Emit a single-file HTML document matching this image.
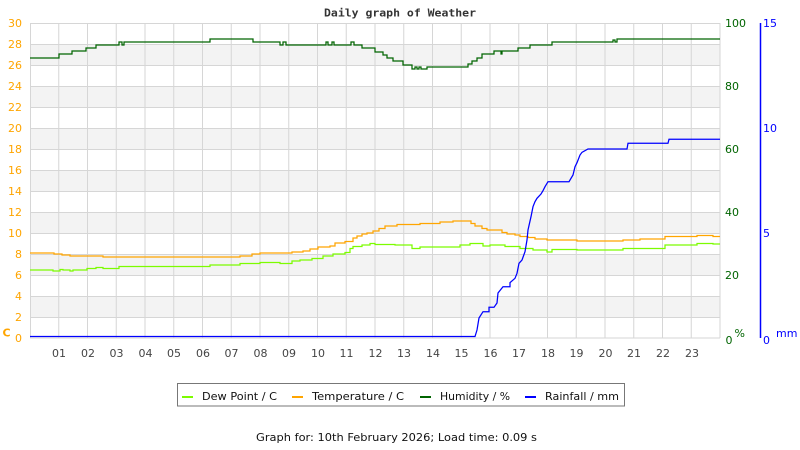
<!DOCTYPE html>
<html><head><meta charset="utf-8"><style>
html,body{margin:0;padding:0;background:#fff;}
svg{display:block;}
text{font-family:"DejaVu Sans","Liberation Sans",sans-serif;}
</style></head><body>
<svg width="800" height="450" viewBox="0 0 800 450" xmlns="http://www.w3.org/2000/svg">
<rect x="0" y="0" width="800" height="450" fill="#fff"/>
<!-- bands -->
<g fill="#f3f3f3">
<rect x="30" y="44" width="690" height="21"/>
<rect x="30" y="86" width="690" height="21"/>
<rect x="30" y="128" width="690" height="21"/>
<rect x="30" y="170" width="690" height="21"/>
<rect x="30" y="212" width="690" height="21"/>
<rect x="30" y="254" width="690" height="21"/>
<rect x="30" y="296" width="690" height="21"/>
</g>
<!-- horizontal grid -->
<g stroke="#d6d6d6" stroke-width="1">
<line x1="30" y1="23.5" x2="720" y2="23.5"/>
<line x1="30" y1="44.5" x2="720" y2="44.5"/>
<line x1="30" y1="65.5" x2="720" y2="65.5"/>
<line x1="30" y1="86.5" x2="720" y2="86.5"/>
<line x1="30" y1="107.5" x2="720" y2="107.5"/>
<line x1="30" y1="128.5" x2="720" y2="128.5"/>
<line x1="30" y1="149.5" x2="720" y2="149.5"/>
<line x1="30" y1="170.5" x2="720" y2="170.5"/>
<line x1="30" y1="191.5" x2="720" y2="191.5"/>
<line x1="30" y1="212.5" x2="720" y2="212.5"/>
<line x1="30" y1="233.5" x2="720" y2="233.5"/>
<line x1="30" y1="254.5" x2="720" y2="254.5"/>
<line x1="30" y1="275.5" x2="720" y2="275.5"/>
<line x1="30" y1="296.5" x2="720" y2="296.5"/>
<line x1="30" y1="317.5" x2="720" y2="317.5"/>
<line x1="30" y1="338" x2="720" y2="338"/>
</g>
<!-- vertical grid -->
<g stroke="#d6d6d6" stroke-width="1">
<line x1="30.5" y1="23" x2="30.5" y2="338"/>
<line x1="58.75" y1="23" x2="58.75" y2="338"/>
<line x1="87.5" y1="23" x2="87.5" y2="338"/>
<line x1="116.25" y1="23" x2="116.25" y2="338"/>
<line x1="145" y1="23" x2="145" y2="338"/>
<line x1="173.75" y1="23" x2="173.75" y2="338"/>
<line x1="202.5" y1="23" x2="202.5" y2="338"/>
<line x1="231.25" y1="23" x2="231.25" y2="338"/>
<line x1="260" y1="23" x2="260" y2="338"/>
<line x1="288.75" y1="23" x2="288.75" y2="338"/>
<line x1="317.5" y1="23" x2="317.5" y2="338"/>
<line x1="346.25" y1="23" x2="346.25" y2="338"/>
<line x1="375" y1="23" x2="375" y2="338"/>
<line x1="403.75" y1="23" x2="403.75" y2="338"/>
<line x1="432.5" y1="23" x2="432.5" y2="338"/>
<line x1="461.25" y1="23" x2="461.25" y2="338"/>
<line x1="490" y1="23" x2="490" y2="338"/>
<line x1="518.75" y1="23" x2="518.75" y2="338"/>
<line x1="547.5" y1="23" x2="547.5" y2="338"/>
<line x1="576.25" y1="23" x2="576.25" y2="338"/>
<line x1="605" y1="23" x2="605" y2="338"/>
<line x1="633.75" y1="23" x2="633.75" y2="338"/>
<line x1="662.5" y1="23" x2="662.5" y2="338"/>
<line x1="691.25" y1="23" x2="691.25" y2="338"/>
<line x1="720" y1="23" x2="720" y2="338"/>
</g>
<!-- title -->
<text x="324" y="16.5" style="font-family:'DejaVu Sans Mono','Liberation Mono',monospace" font-weight="bold" font-size="11" fill="#333" textLength="152" lengthAdjust="spacingAndGlyphs">Daily graph of Weather</text>
<!-- left axis labels -->
<g fill="#ffa500" font-size="11" text-anchor="end">
<text x="22" y="27">30</text>
<text x="22" y="48">28</text>
<text x="22" y="69">26</text>
<text x="22" y="90">24</text>
<text x="22" y="111">22</text>
<text x="22" y="132">20</text>
<text x="22" y="153">18</text>
<text x="22" y="174">16</text>
<text x="22" y="195">14</text>
<text x="22" y="216">12</text>
<text x="22" y="237">10</text>
<text x="22" y="258">8</text>
<text x="22" y="279">6</text>
<text x="22" y="300">4</text>
<text x="22" y="321">2</text>
<text x="22" y="342">0</text>
</g>
<text x="2.5" y="336.5" fill="#ffa500" font-size="11" font-weight="bold">C</text>
<!-- right humidity labels -->
<g fill="#006400" font-size="11">
<text x="725" y="27">100</text>
<text x="725" y="90">80</text>
<text x="725" y="153">60</text>
<text x="725" y="216">40</text>
<text x="725" y="279">20</text>
<text x="725.5" y="344">0</text>
<text x="734.5" y="337">%</text>
</g>
<!-- rain axis -->
<line x1="760.5" y1="23" x2="760.5" y2="338" stroke="#0000ff" stroke-width="1.5"/>
<g fill="#0000ff" font-size="11">
<text x="763" y="27">15</text>
<text x="763" y="132">10</text>
<text x="763" y="237">5</text>
<text x="763" y="344">0</text>
<text x="776" y="337">mm</text>
</g>
<!-- hour labels -->
<g fill="#444" font-size="11" text-anchor="middle">
<text x="59" y="357">01</text>
<text x="88" y="357">02</text>
<text x="116.5" y="357">03</text>
<text x="145.5" y="357">04</text>
<text x="174" y="357">05</text>
<text x="203" y="357">06</text>
<text x="231.5" y="357">07</text>
<text x="260.5" y="357">08</text>
<text x="289" y="357">09</text>
<text x="318" y="357">10</text>
<text x="346.5" y="357">11</text>
<text x="375.5" y="357">12</text>
<text x="404" y="357">13</text>
<text x="433" y="357">14</text>
<text x="461.5" y="357">15</text>
<text x="490.5" y="357">16</text>
<text x="519" y="357">17</text>
<text x="548" y="357">18</text>
<text x="576.5" y="357">19</text>
<text x="605.5" y="357">20</text>
<text x="634" y="357">21</text>
<text x="663" y="357">22</text>
<text x="692" y="357">23</text>
</g>
<!-- series -->
<g fill="none" stroke-width="1.25" stroke-linejoin="miter">
<path stroke="#006400" d="M30,58 H59 V54 H72 V51 H86 V48 H96 V45 H119 V42 H122 V45 H124 V42 H210 V39 H253 V42 H280 V45 H283 V42 H286 V45 H326 V42 H328 V45 H332 V42 H334 V45 H351 V42 H354 V45 H362 V48 H375 V52 H383 V55 H387 V58 H393 V61 H403 V65 H412 V69 H415 V67 H417 V69 H419 V67 H421 V69 H427 V67 H468 V64 H472 V61 H477 V58 H482 V54 H494 V51 H501 V54 H502 V51 H518 V48 H530 V45 H552 V42 H613 V40 H615 V42 H617 V39 H720"/>
<path stroke="#ffa500" d="M30,253 H54 V254 H62 V255 H70 V256 H103 V257 H240 V256 H252 V254 H260 V253 H292 V252 H303 V251 H310 V249 H318 V247 H330 V246 H335 V243 H345 V241.5 H353 V238 H357 V236 H362 V234 H367 V233 H373 V231 H379 V228.5 H385 V226 H397 V224.5 H420 V223.5 H440 V222 H453 V221 H471 V223.5 H475 V226 H482 V228.5 H487 V230 H502 V232.5 H507 V234 H515 V235 H520 V236.5 H528 V237.5 H535 V239 H547 V240 H577 V241 H623 V240 H640 V239 H665 V236.5 H697 V235.5 H713 V236.5 H720"/>
<path stroke="#7cfc00" d="M30,270 H53 V271 H60 V269.5 H63 V270 H70 V271 H73 V270 H87 V268.5 H96 V267.5 H103 V268.5 H119 V266.5 H210 V265 H240 V263.5 H260 V262.5 H280 V263.5 H292 V261 H300 V260 H312 V258.5 H323 V256 H333 V254 H345 V252.5 H350 V248.5 H353 V246.5 H362 V245 H370 V243.5 H375 V244.5 H395 V245 H412 V248.5 H420 V247 H460 V245 H470 V243.5 H483 V246 H490 V245 H505 V246.5 H520 V248.5 H533 V250 H547 V252 H552 V249.5 H577 V250 H623 V248.5 H665 V245 H697 V243.5 H713 V244 H720"/>
<path stroke="#0000ff" d="M30,336.5 H475 L477,330 L479,318 L483,311.7 H489 V307.3 H494 L497,303 L498,293 L503,286.7 H510 V282.7 L515,278.3 L517,273.3 L519,263.3 L522,260 L525,251.7 L527,240 L528,230 L531,216.7 L533,206.7 L535,201.7 L537,198.3 L541,194 L543,190.7 L545,186.7 L548,181.7 H569 L573,175 L575,166.7 L577,162.7 L580,155 L582,152.3 L588,149 H627 L628,143.3 H668 L669,139.3 H720"/>
</g>
<!-- legend -->
<rect x="177.5" y="383.5" width="447" height="22.5" fill="#fff" stroke="#777" stroke-width="1"/>
<g stroke-width="2">
<line x1="182" y1="397" x2="193" y2="397" stroke="#7cfc00"/>
<line x1="292" y1="397" x2="303" y2="397" stroke="#ffa500"/>
<line x1="420" y1="397" x2="431" y2="397" stroke="#006400"/>
<line x1="525" y1="397" x2="536" y2="397" stroke="#0000ff"/>
</g>
<g fill="#111" font-size="11">
<text x="202" y="400" textLength="75" lengthAdjust="spacingAndGlyphs">Dew Point / C</text>
<text x="312" y="400" textLength="92" lengthAdjust="spacingAndGlyphs">Temperature / C</text>
<text x="440" y="400" textLength="70" lengthAdjust="spacingAndGlyphs">Humidity / %</text>
<text x="545" y="400" textLength="74" lengthAdjust="spacingAndGlyphs">Rainfall / mm</text>
</g>
<text x="256" y="441" fill="#111" font-size="11" textLength="281" lengthAdjust="spacingAndGlyphs">Graph for: 10th February 2026; Load time: 0.09 s</text>
</svg>
</body></html>
